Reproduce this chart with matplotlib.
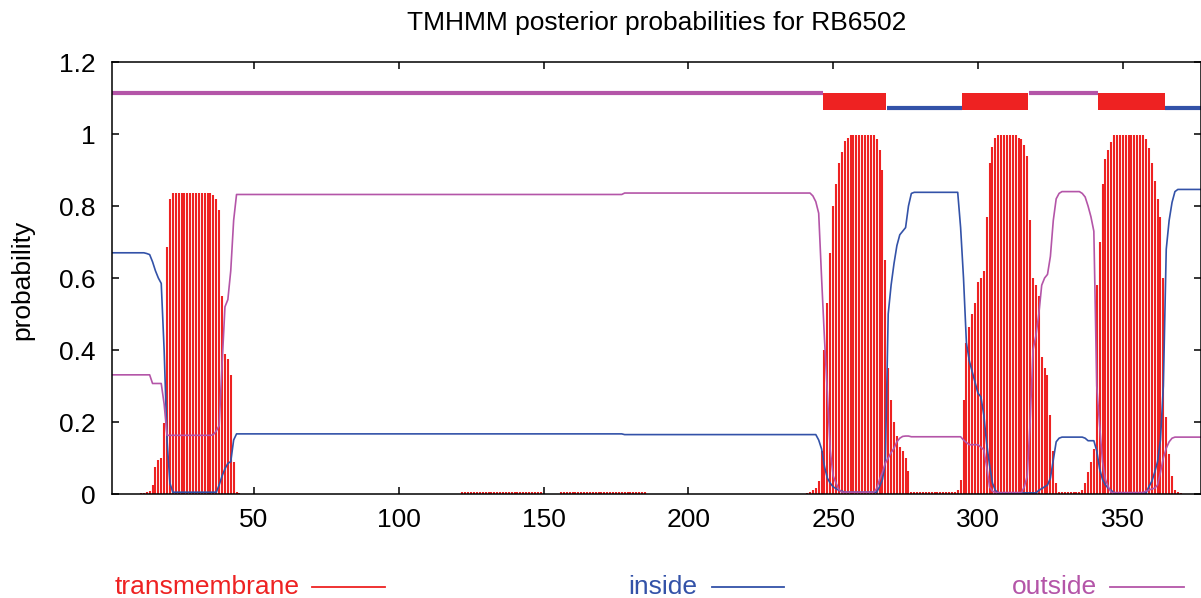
"""
TMHMM posterior probability plot for RB6502, redrawn with matplotlib.
"""

import matplotlib

matplotlib.use("Agg")  # Headless
import matplotlib.pyplot as plt
from matplotlib.lines import Line2D
from matplotlib.patches import Rectangle
import numpy as np

plt.rcParams["font.family"] = ["Liberation Sans", "DejaVu Sans"]

RED = "#EE2222"
BLUE = "#3352A8"
MAGENTA = "#B455A8"

# posterior probabilities per residue (1..377)
inside = (
    [0.670] * 12
    + [0.668, 0.665, 0.645, 0.62, 0.60, 0.585, 0.40, 0.15, 0.03]
    + [0.005] * 16
    + [0.025, 0.05, 0.07, 0.085, 0.09, 0.15]
    + [0.167] * 134
    + [0.165] * 67
    + [0.15, 0.125, 0.076, 0.044, 0.03, 0.02, 0.015, 0.01, 0.008]
    + [0.005] * 12
    + [0.02, 0.04, 0.086, 0.50, 0.58, 0.64, 0.69, 0.72, 0.73, 0.74, 0.80, 0.835]
    + [0.838] * 16
    + [0.74, 0.60, 0.42, 0.37, 0.34, 0.31, 0.28, 0.27, 0.22, 0.14, 0.08, 0.03, 0.01]
    + [0.003] * 14
    + [0.01, 0.015, 0.02, 0.025, 0.044, 0.095, 0.145, 0.155]
    + [0.158] * 8
    + [0.155, 0.148, 0.148, 0.148, 0.12, 0.07, 0.04, 0.025, 0.016, 0.01]
    + [0.003] * 12
    + [0.02, 0.035, 0.06, 0.09, 0.15, 0.30, 0.68, 0.76, 0.81, 0.84]
    + [0.846] * 9
)

outside = (
    [0.331] * 14
    + [0.307] * 4
    + [0.25]
    + [0.163] * 16
    + [0.165, 0.175, 0.19, 0.36, 0.52, 0.54, 0.62, 0.76]
    + [0.832] * 134
    + [0.836] * 65
    + [0.828, 0.812, 0.78, 0.60, 0.43, 0.28, 0.12, 0.05, 0.03, 0.012]
    + [0.005] * 12
    + [0.015, 0.04, 0.06, 0.086, 0.10, 0.115, 0.127, 0.145, 0.155, 0.16, 0.161, 0.161]
    + [0.159] * 18
    + [0.15, 0.143, 0.137, 0.137, 0.137, 0.137, 0.13, 0.123, 0.076, 0.02, 0.008]
    + [0.004] * 10
    + [0.02, 0.05, 0.20, 0.40, 0.44, 0.50, 0.58, 0.60, 0.61, 0.66, 0.76, 0.82, 0.835]
    + [0.84] * 7
    + [0.835, 0.825, 0.80, 0.77, 0.73, 0.30, 0.19, 0.09, 0.04, 0.02]
    + [0.004] * 12
    + [0.008, 0.011, 0.014, 0.016, 0.025, 0.06, 0.10, 0.127, 0.145, 0.155]
    + [0.158] * 10
)

membrane = (
    [0.0] * 10
    + [0.003, 0.003, 0.005, 0.008, 0.025, 0.076, 0.095, 0.10, 0.196, 0.687, 0.82, 0.835]
    + [0.837] * 13
    + [0.83, 0.82, 0.79, 0.55, 0.39, 0.375, 0.33, 0.09, 0.005, 0.003]
    + [0.0] * 76
    + [0.005] * 28
    + [0.0] * 6
    + [0.005] * 30
    + [0.0] * 55
    + [0.003, 0.005, 0.01, 0.018, 0.035, 0.12, 0.40, 0.53, 0.67, 0.80,
       0.86, 0.92, 0.95, 0.98, 0.99]
    + [0.997] * 9
    + [0.985, 0.955, 0.90, 0.65, 0.35, 0.26, 0.20, 0.16, 0.13, 0.12, 0.10, 0.065]
    + [0.005] * 16
    + [0.01, 0.04, 0.26, 0.42, 0.465, 0.50, 0.53, 0.59, 0.60, 0.62, 0.77, 0.92, 0.965, 0.988]
    + [0.997] * 7
    + [0.99, 0.985, 0.97, 0.94, 0.76, 0.60, 0.58, 0.55, 0.38, 0.35, 0.33, 0.22, 0.12, 0.03]
    + [0.005] * 8
    + [0.01, 0.03, 0.06, 0.09, 0.125, 0.58, 0.70, 0.86, 0.93, 0.955, 0.978]
    + [0.997] * 11
    + [0.985, 0.96, 0.92, 0.87, 0.82, 0.77, 0.60, 0.215, 0.11, 0.05, 0.01, 0.005, 0.003]
    + [0.0] * 7
)

# predicted topology: (first residue, last residue, kind)
topo_start = [1, 247, 269, 295, 318, 342, 365]
topo_end = [246, 268, 294, 317, 341, 364, 377]
topo_kind = ["outside", "TMhelix", "inside", "TMhelix", "outside", "TMhelix", "inside"]

seq_len = 377
x_ticks = [50, 100, 150, 200, 250, 300, 350]
y_ticks = [0, 0.2, 0.4, 0.6, 0.8, 1.0, 1.2]
y_tick_labels = ["0", "0.2", "0.4", "0.6", "0.8", "1", "1.2"]

assert len(inside) == len(outside) == len(membrane) == seq_len

residues = np.arange(1, seq_len + 1)
FS = 19

fig = plt.figure(figsize=(12.01, 5.98), dpi=100)
ax = fig.add_axes([112 / 1201, 104 / 598, 1089 / 1201, 432 / 598])

ax.vlines(residues, 0, membrane, color=RED, lw=1.5)
ax.plot(residues, inside, color=BLUE, lw=1.2)
ax.plot(residues, outside, color=MAGENTA, lw=1.2)

# topology strip above the curves
for s, e, kind in zip(topo_start, topo_end, topo_kind):
    lo = max(s - 0.4, 1)
    hi = e + 0.4
    if kind == "TMhelix":
        ax.add_patch(Rectangle((lo, 1.067), hi - lo, 0.048, color=RED, lw=0))
    elif kind == "inside":
        ax.plot([lo, hi], [1.071, 1.071], color=BLUE, lw=3.0, solid_capstyle="butt")
    else:
        ax.plot([lo, hi], [1.113, 1.113], color=MAGENTA, lw=3.0, solid_capstyle="butt")

ax.set_xlim(1, seq_len)
ax.set_ylim(0, 1.2)
ax.set_xticks(x_ticks)
ax.set_yticks(y_ticks)
ax.set_yticklabels(y_tick_labels)
ax.tick_params(direction="in", length=5, width=1.1, top=True, right=True, labelsize=FS)
ax.tick_params(axis="x", pad=10)
ax.tick_params(axis="y", pad=12)
for sp in ax.spines.values():
    sp.set_linewidth(1.1)

fig.text(657 / 1201, 1 - 23 / 598, "TMHMM posterior probabilities for RB6502",
         ha="center", va="center", fontsize=FS)
fig.text(22 / 1201, 1 - 280 / 598, "probability", rotation=90,
         ha="center", va="center", fontsize=FS)

# key along the bottom, gnuplot style: label then line sample
key_labels = ["transmembrane", "inside", "outside"]
key_colors = [RED, BLUE, MAGENTA]
key_text_x = [115, 628, 1012]
key_line_x = [(312, 385), (712, 784), (1110, 1184)]
key_y = 1 - 587 / 598
for lab, col, tx, (l0, l1) in zip(key_labels, key_colors, key_text_x, key_line_x):
    fig.text(tx / 1201, key_y, lab, color=col, ha="left", va="center", fontsize=FS)
    fig.add_artist(Line2D([l0 / 1201, l1 / 1201], [key_y, key_y], color=col, lw=1.3))

fig.savefig("out.png", dpi=100)
